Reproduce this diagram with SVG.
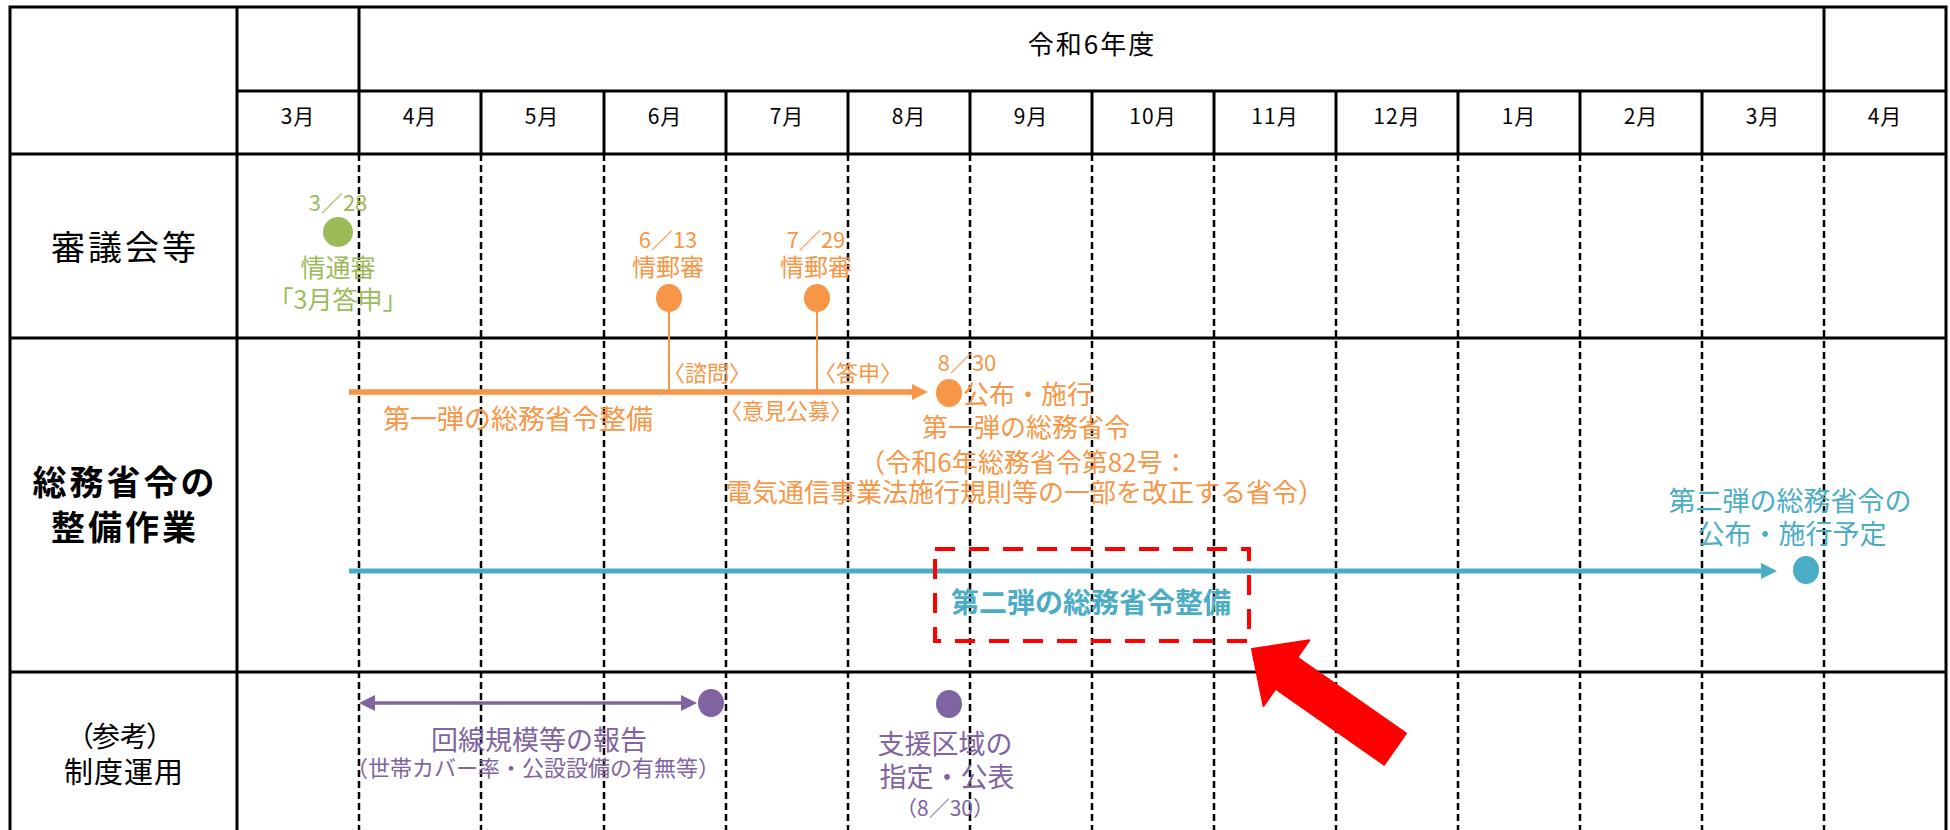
<svg xmlns="http://www.w3.org/2000/svg" width="1950" height="830" viewBox="0 0 1950 830">
<defs>
<style>
.solid{stroke:#000;stroke-width:3;fill:none}
.dash{stroke:#000;stroke-width:2.5;stroke-dasharray:7 4;fill:none}
text{font-family:"Noto Sans CJK JP","Noto Sans",sans-serif;text-anchor:middle}
.mo{font-size:21px;fill:#000;letter-spacing:1px}
.yr{font-size:26px;fill:#000;letter-spacing:2px}
.rl{font-size:34px;fill:#000;letter-spacing:3px}
.rb{font-size:34px;fill:#000;font-weight:bold;letter-spacing:3px}
.rs{font-size:29px;fill:#000;letter-spacing:1px}
.g{fill:#9BBB59}
.o{fill:#F79646}
.b{fill:#4BACC6}
.p{fill:#8064A2}
.s22{font-size:22px}
.s25{font-size:25px}
.s24{font-size:24px}
.s26{font-size:26px}
.s27{font-size:27px}
</style>
<marker id="ah-o" viewBox="0 0 16 16" refX="4" refY="8" markerWidth="16" markerHeight="16" orient="auto" markerUnits="userSpaceOnUse"><path d="M0,0 L16,8 L0,16 z" fill="#F79646"/></marker>
<marker id="ah-b" viewBox="0 0 16 16" refX="4" refY="8" markerWidth="16" markerHeight="16" orient="auto" markerUnits="userSpaceOnUse"><path d="M0,0 L16,8 L0,16 z" fill="#4BACC6"/></marker>
<marker id="ah-p" viewBox="0 0 16 16" refX="4" refY="8" markerWidth="16" markerHeight="16" orient="auto-start-reverse" markerUnits="userSpaceOnUse"><path d="M0,0 L16,8 L0,16 z" fill="#8064A2"/></marker>
</defs>
<rect width="1950" height="830" fill="#fff"/>
<g id="grid">
<path class="solid" d="M10,830 V7 H1946 V830 M237,7 V830 M359,7 V154 M1824,7 V154 M237,91 H1946 M10,154 H1946 M10,338 H1946 M10,672 H1946"/>
<path class="solid" d="M481,91 V154 M604,91 V154 M726,91 V154 M848,91 V154 M970,91 V154 M1092,91 V154 M1214,91 V154 M1336,91 V154 M1458,91 V154 M1580,91 V154 M1702,91 V154"/>
<path class="dash" d="M359,154 V830 M481,154 V830 M604,154 V830 M726,154 V830 M848,154 V830 M970,154 V830 M1092,154 V830 M1214,154 V830 M1336,154 V830 M1458,154 V830 M1580,154 V830 M1702,154 V830 M1824,154 V830"/>
<text class="yr" x="1092" y="54">令和6年度</text>
<text class="mo" x="298" y="124">3月</text>
<text class="mo" x="420" y="124">4月</text>
<text class="mo" x="542" y="124">5月</text>
<text class="mo" x="665" y="124">6月</text>
<text class="mo" x="787" y="124">7月</text>
<text class="mo" x="909" y="124">8月</text>
<text class="mo" x="1031" y="124">9月</text>
<text class="mo" x="1153" y="124">10月</text>
<text class="mo" x="1275" y="124">11月</text>
<text class="mo" x="1397" y="124">12月</text>
<text class="mo" x="1519" y="124">1月</text>
<text class="mo" x="1641" y="124">2月</text>
<text class="mo" x="1763" y="124">3月</text>
<text class="mo" x="1885" y="124">4月</text>
<text class="rl" x="125" y="260">審議会等</text>
<text class="rb" x="125" y="495">総務省令の</text>
<text class="rb" x="125" y="540">整備作業</text>
<text x="66 92 120 146" y="747" style="font-size:28px;fill:#000;text-anchor:start">（参考）</text>
<text class="rs" x="124" y="783">制度運用</text>
</g>
<g id="connectors">
<path d="M669,298 V392 M817,298 V392" stroke="#F79646" stroke-width="2" fill="none"/>
<line x1="349" y1="392" x2="916" y2="392" stroke="#F79646" stroke-width="5.5" marker-end="url(#ah-o)"/>
<line x1="349" y1="571" x2="1765" y2="571" stroke="#4BACC6" stroke-width="5" marker-end="url(#ah-b)"/>
<line x1="371" y1="703" x2="685" y2="703" stroke="#8064A2" stroke-width="3.5" marker-start="url(#ah-p)" marker-end="url(#ah-p)"/>
</g>
<g id="node-328">
<circle cx="338" cy="232" r="15" fill="#9BBB59"/>
<text class="g s22" x="338" y="211">3／28</text>
<text class="g s25" x="338" y="277">情通審</text>
<text class="g s25" x="338" y="309">「3月答申」</text>
</g>
<g id="node-613">
<ellipse cx="669" cy="298" rx="13" ry="14" fill="#F79646"/>
<text class="o s22" x="668" y="248">6／13</text>
<text class="o s24" x="668" y="276">情郵審</text>
<text class="o s22" x="707" y="381">〈諮問〉</text>
</g>
<g id="node-729">
<ellipse cx="817" cy="298" rx="13" ry="14" fill="#F79646"/>
<text class="o s22" x="816" y="248">7／29</text>
<text class="o s24" x="816" y="276">情郵審</text>
<text class="o s22" x="858" y="381">〈答申〉</text>
<text class="o s22" x="786" y="419">〈意見公募〉</text>
</g>
<g id="node-first">
<text class="o s27" x="518" y="429">第一弾の総務省令整備</text>
</g>
<g id="node-830">
<ellipse cx="949" cy="393" rx="13" ry="14" fill="#F79646"/>
<text class="o s22" x="967" y="371">8／30</text>
<text class="o s26" x="1028" y="404">公布・施行</text>
<text class="o s26" x="1026" y="437">第一弾の総務省令</text>
<text class="o s26" x="1024" y="472">（令和6年総務省令第82号：</text>
<text class="o s26" x="1025" y="502">電気通信事業法施行規則等の一部を改正する省令）</text>
</g>
<g id="node-second-end">
<ellipse cx="1806" cy="570" rx="13" ry="14" fill="#4BACC6"/>
<text class="b s27" x="1790" y="511">第二弾の総務省令の</text>
<text class="b s27" x="1792" y="544">公布・施行予定</text>
</g>
<g id="node-second">
<rect x="935" y="549" width="314" height="92" fill="none" stroke="#FF0000" stroke-width="4" stroke-dasharray="20 14"/>
<text class="b" x="1091" y="613" style="font-size:28px;font-weight:bold">第二弾の総務省令整備</text>
</g>
<g id="red-arrow">
<polygon points="1252,649 1309.3,640.3 1297.3,657.5 1405.9,733.4 1384.1,764.6 1275.5,688.7 1263.5,705.9" fill="#FF0000" stroke="#FF0000" stroke-width="2" stroke-linejoin="round"/>
</g>
<g id="node-report">
<ellipse cx="711" cy="703" rx="13" ry="14" fill="#8064A2"/>
<text class="p s27" x="539" y="750">回線規模等の報告</text>
<text class="p s22" x="533" y="776">（世帯カバー率・公設設備の有無等）</text>
</g>
<g id="node-area">
<ellipse cx="949" cy="704" rx="13" ry="14" fill="#8064A2"/>
<text class="p s27" x="945" y="754">支援区域の</text>
<text class="p s27" x="947" y="787">指定・公表</text>
<text class="p" x="945" y="816" style="font-size:21px">（8／30）</text>
</g>
</svg>
